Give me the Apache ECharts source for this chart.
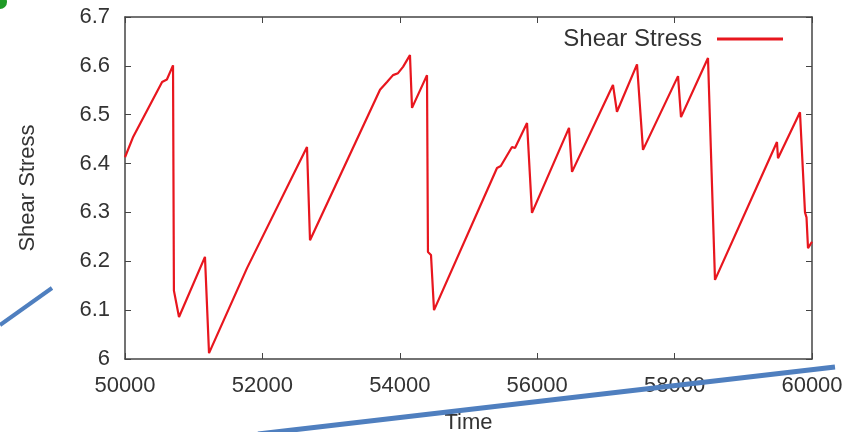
<!DOCTYPE html>
<html>
<head>
<meta charset="utf-8">
<script src="https://cdn.jsdelivr.net/npm/echarts@6/dist/echarts.min.js"></script>
<style>html,body{margin:0;padding:0;background:#fff;}#c{width:855px;height:432px;}</style>
</head>
<body>
<div id="c"></div>
<script>
var times = [50000,50120,50540,50610,50699,50712,50786,51164,51223,51776,52649,52693,53712,53814,53901,53974,54047,54076,54148,54178,54396,54410,54454,54498,55415,55470,55633,55677,55852,55924,56463,56507,57103,57161,57453,57540,58050,58093,58486,58588,59490,59505,59825,59898,59920,59942,60000];
var stress = [6.413,6.455,6.567,6.572,6.601,6.14,6.086,6.209,6.012,6.186,6.434,6.243,6.551,6.567,6.581,6.585,6.598,6.594,6.622,6.514,6.581,6.219,6.213,6.1,6.391,6.395,6.434,6.432,6.483,6.299,6.473,6.383,6.561,6.506,6.603,6.428,6.579,6.495,6.616,6.162,6.444,6.411,6.505,6.3,6.29,6.227,6.24];
var xTicks = [50000,52000,54000,56000,58000,60000];
var yTicks = [6,6.1,6.2,6.3,6.4,6.5,6.6,6.7];
var seriesName = 'Shear Stress';

var data = times.map(function(t,i){return [t, stress[i]];});
var chart = echarts.init(document.getElementById('c'));
var txt = '#333';
var font = 'Liberation Sans, Arial, sans-serif';
var axisCommon = {
  axisLine:{show:true, onZero:false, lineStyle:{color:'#444', width:1.5}},
  axisTick:{show:true, inside:true, length:6, lineStyle:{color:'#444'}},
  splitLine:{show:false}
};
chart.setOption({
  animation:false,
  backgroundColor:'#fff',
  grid:{left:125, right:43, top:17, bottom:73, containLabel:false, outerBoundsMode:'none'},
  legend:{
    show:true, right:67, top:22, align:'right',
    itemWidth:66, itemHeight:3, itemGap:10,
    icon:'rect',
    textStyle:{fontFamily:font, fontSize:24, color:txt, padding:[0,10,0,0]},
    data:[{name:seriesName}]
  },
  xAxis:[
    Object.assign({type:'value', min:xTicks[0], max:xTicks[xTicks.length-1], interval:2000, position:'bottom',
      name:'Time', nameLocation:'middle', nameGap:53,
      nameTextStyle:{fontFamily:font, fontSize:22, color:txt},
      axisLabel:{fontFamily:font, fontSize:22, color:txt, margin:16,
        formatter:function(v){return String(v);}}}, axisCommon),
    Object.assign({type:'value', min:xTicks[0], max:xTicks[xTicks.length-1], interval:2000, position:'top',
      axisLabel:{show:false}}, axisCommon)
  ],
  yAxis:[
    Object.assign({type:'value', min:yTicks[0], max:yTicks[yTicks.length-1], interval:0.1, position:'left',
      name:'Shear Stress', nameLocation:'middle', nameGap:86, nameRotate:90,
      nameTextStyle:{fontFamily:font, fontSize:22, color:txt},
      axisLabel:{fontFamily:font, fontSize:22, color:txt, margin:15,
        formatter:function(v){return String(Math.round(v*10)/10);}}}, axisCommon),
    Object.assign({type:'value', min:yTicks[0], max:yTicks[yTicks.length-1], interval:0.1, position:'right',
      axisLabel:{show:false}}, axisCommon)
  ],
  series:[{
    name:seriesName, type:'line', data:data, showSymbol:false, symbol:'none',
    xAxisIndex:0, yAxisIndex:0,
    lineStyle:{color:'#e8161e', width:2.2}, itemStyle:{color:'#e8161e'}
  }],
  graphic:[
    {type:'circle', shape:{cx:0, cy:2, r:7}, style:{fill:'#1f9a26'}, z:100},
    {type:'line', shape:{x1:0, y1:325, x2:52, y2:288}, style:{stroke:'#4f7fbf', lineWidth:4}, z:100},
    {type:'line', shape:{x1:258, y1:434, x2:835, y2:367}, style:{stroke:'#4f7fbf', lineWidth:5}, z:100}
  ]
});
</script>
</body>
</html>
